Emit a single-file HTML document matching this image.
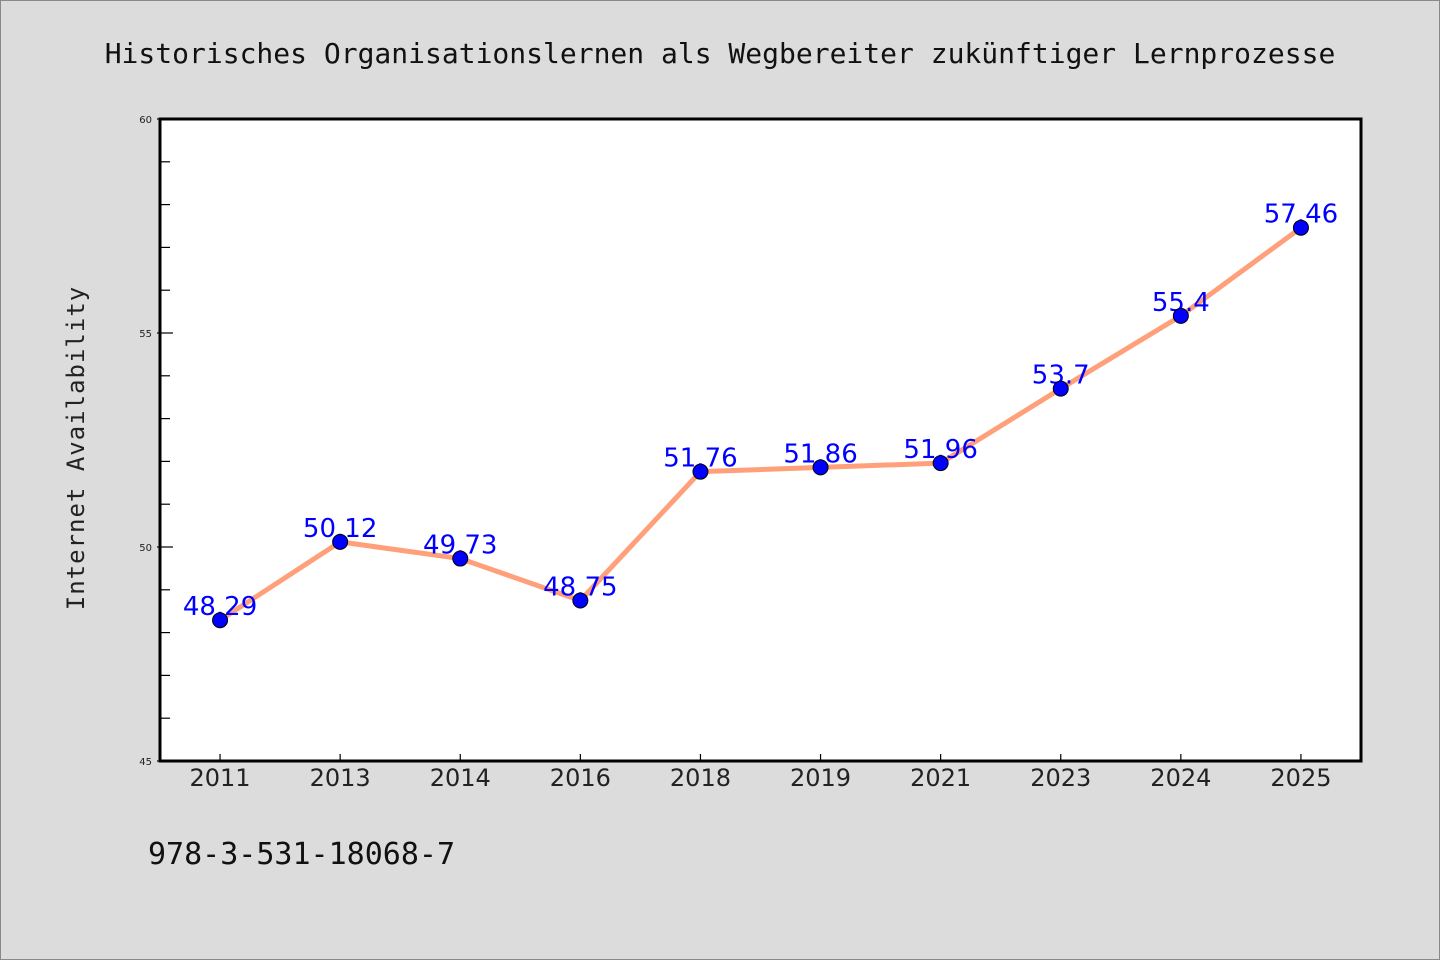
<!DOCTYPE html>
<html><head><meta charset="utf-8"><style>
html,body{margin:0;padding:0;background:#dcdcdc;}
svg{display:block;font-family:"DejaVu Sans","Liberation Sans",sans-serif;}
</style></head><body>
<svg id="c" width="1440" height="960">
<rect x="0.5" y="0.5" width="1439" height="959" fill="#dcdcdc" stroke="#888"/>
<text x="720" y="63" text-anchor="middle" font-size="28" fill="#111" font-family="'DejaVu Sans Mono','Liberation Mono',monospace">Historisches Organisationslernen als Wegbereiter zukünftiger Lernprozesse</text>
<rect x="160" y="119" width="1201" height="642" fill="#fff"/>
<g id="ticks"></g>
<g id="series"></g>
<rect x="160" y="119" width="1201" height="642" fill="none" stroke="#000" stroke-width="3"/>
<text transform="translate(84,448) rotate(-90)" text-anchor="middle" font-size="24" fill="#222" font-family="'DejaVu Sans Mono','Liberation Mono',monospace" letter-spacing="1">Internet Availability</text>
<text x="148" y="864" font-size="30" fill="#111" font-family="'DejaVu Sans Mono','Liberation Mono',monospace">978-3-531-18068-7</text>
</svg>
<script>
const categories=["2011","2013","2014","2016","2018","2019","2021","2023","2024","2025"];
const values=[48.29,50.12,49.73,48.75,51.76,51.86,51.96,53.7,55.4,57.46];
const labels=["48.29","50.12","49.73","48.75","51.76","51.86","51.96","53.7","55.4","57.46"];
const yTicks=[45,50,55,60];
const yMin=45,yMax=60;
const L=160,R=1361,T=119,B=761;
const NS="http://www.w3.org/2000/svg";
const xs=i=>L+(R-L)/categories.length*(i+0.5);
const ys=v=>B-(v-yMin)/(yMax-yMin)*(B-T);
function mk(tag,attrs,parent){const e=document.createElementNS(NS,tag);for(const k in attrs)e.setAttribute(k,attrs[k]);parent.appendChild(e);return e;}
const tg=document.getElementById('ticks'),sg=document.getElementById('series');
for(let v=yMin+1;v<yMax;v++){
  if(yTicks.includes(v))continue;
  const t=mk('line',{x1:L,x2:L+10,y1:ys(v),y2:ys(v),stroke:'#000','stroke-width':1.2},tg);
  
  
}
yTicks.forEach(v=>{
  const t=mk('line',{x1:L-3,x2:L+13,y1:ys(v),y2:ys(v),stroke:'#000','stroke-width':1.2},tg);
  
  
  const l=mk('text',{x:L-8,y:ys(v)+4,'text-anchor':'end','font-size':10,fill:'#222'},tg);
  l.textContent=v;
  
  
});
categories.forEach((c,i)=>{
  const t=mk('line',{x1:xs(i),x2:xs(i),y1:B,y2:B-7,stroke:'#000','stroke-width':1.2},tg);
  
  
  const l=mk('text',{x:xs(i),y:B+25,'text-anchor':'middle','font-size':24,fill:'#222'},tg);
  l.textContent=c;
  
  
});
const line=mk('polyline',{points:values.map((v,i)=>xs(i)+','+ys(v)).join(' '),fill:'none',stroke:'#ffa07a','stroke-width':5,'stroke-linejoin':'round'},sg);


values.forEach((v,i)=>{
  const l=mk('text',{x:xs(i),y:ys(v)-5,'text-anchor':'middle','font-size':26,fill:'#0000ff'},sg);
  l.textContent=labels[i];
  
  
});
values.forEach((v,i)=>{
  const p=mk('circle',{cx:xs(i),cy:ys(v),r:7.5,fill:'#0000ff',stroke:'#000','stroke-width':1},sg);
  
  
});
</script>
</body></html>
